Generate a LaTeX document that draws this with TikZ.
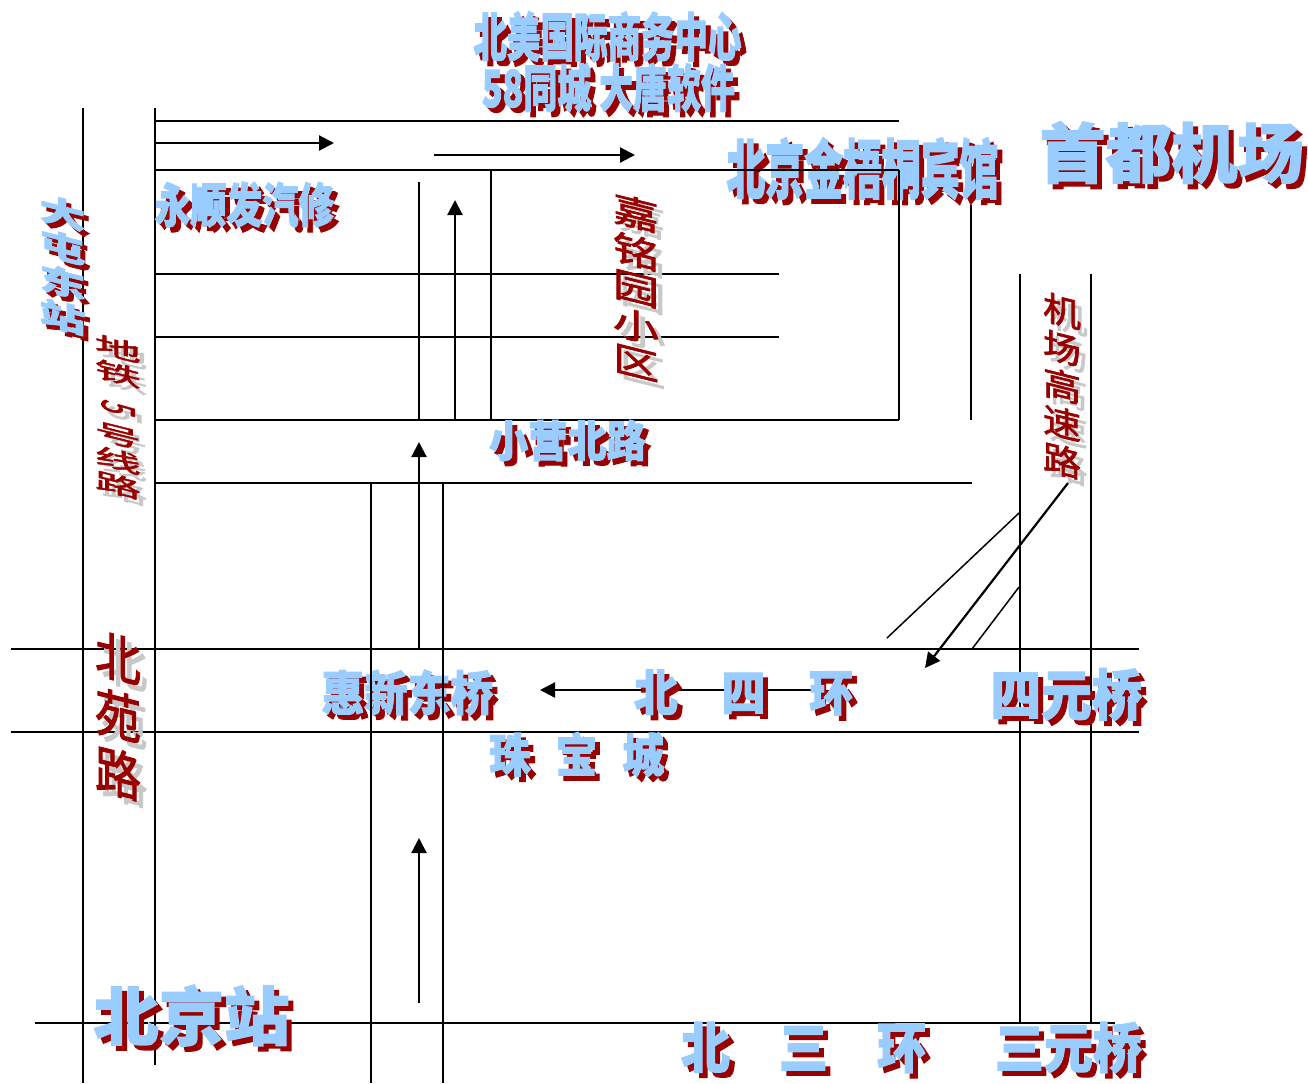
\documentclass[tikz,border=0pt]{standalone}
\usepackage{fontspec}
\usepackage{xcolor}
\usetikzlibrary{arrows.meta}
\newfontfamily\heavyfont[BoldFeatures={FakeBold=2.2}]{Noto Sans CJK SC}
\newfontfamily\thinfont[FakeBold=2]{Noto Sans CJK SC}
\definecolor{frontblue}{RGB}{153,204,255}
\definecolor{shadowred}{RGB}{153,0,0}
\definecolor{shadowgrey}{RGB}{200,200,200}
\newdimen\pxunit
\pxunit=0.02cm
\tikzset{
	road/.style={line width=0.85pt, black},
	route/.style={line width=1.25pt, black, -{Triangle[length=0.3cm,width=0.3cm]}},
	bluetext/.style={inner sep=0pt, outer sep=0pt, font=\heavyfont\bfseries},
	redtext/.style={inner sep=0pt, outer sep=0pt, font=\thinfont},
	leaning/.style={yslant=-0.25, transform shape}
}
% characters set one under the other, with no gap
\newcommand{\charstack}[1]{{\renewcommand{\arraystretch}{0.76}\begin{tabular}[b]{@{}c@{}}#1\end{tabular}}}
% name, x, y, width, height, text (x and y are the centre, in pixels)
\newcommand{\bluelabel}[7][]{
	\node[bluetext, shadowred, #1] (#2-shadow) at (#3+2.5,#4+2.5) {\resizebox{#5\pxunit}{#6\pxunit}{#7}};
	\node[bluetext, frontblue, #1] (#2) at (#3-2.5,#4-2.5) {\resizebox{#5\pxunit}{#6\pxunit}{#7}};
}
\newcommand{\redlabel}[6]{
	\node[redtext, shadowgrey, leaning] (#1-shadow) at (#2+4.5,#3+4.5) {\resizebox{#4\pxunit}{#5\pxunit}{#6}};
	\node[redtext, shadowred, leaning] (#1) at (#2-2,#3-2) {\resizebox{#4\pxunit}{#5\pxunit}{#6}};
}

\begin{document}
\begin{tikzpicture}[x=0.02cm, y=-0.02cm]
	\clip (0,0) rectangle (1308,1083);
	% Labels under the roads
	\bluelabel{jinwutong}{865}{171}{272}{56}{北京金梧桐宾馆}
	\bluelabel{huixin}{410}{695}{172}{41}{惠新东桥}
	% Roads
	\foreach \y/\a/\b in {121/155/899, 170/155/899, 274/155/779, 337/155/779, 420/155/899,
		483/155/972, 649/11/1139, 732/11/1139, 1023/35/1115}{
		\draw[road] (\a,\y) -- (\b,\y);
	}
	\foreach \x/\a/\b in {83/108/1083, 155/108/1065, 371/483/1083, 443/483/1083, 419/182/420,
		491/170/420, 899/170/420, 971/205/420, 1020/274/1023, 1091/274/1023}{
		\draw[road] (\x,\a) -- (\x,\b);
	}
	\draw[road] (1019,513) -- (887,638);
	\draw[road] (1019,587) -- (972,649);
	% Routes
	\draw[route] (155,143) -- (334,143);
	\draw[route] (434,155) -- (635,155);
	\draw[route] (455,420) -- (455,200);
	\draw[route] (419,649) -- (419,442);
	\draw[route] (419,1003) -- (419,838);
	\draw[route] (815,690) -- (540,690);
	\draw[route] (1068,483) -- (925,668);
	% Labels over the roads
	\foreach \name/\x/\y/\w/\h/\txt in {
		meiguo/610/39/268/45/{北美国际商务中心},
		tangsoft/611/90/253/44/{58同城 大唐软件},
		yongshun/247/207/180/41/{永顺发汽修},
		airport/1174/155/264/56/{首都机场},
		xiaoying/570/443/157/37/{小营北路},
		sihuan/746/695/219/41/{北\hspace{1em}四\hspace{1em}环},
		zhubao/579/757/175/40/{珠\hspace{0.6em}宝\hspace{0.6em}城},
		siyuan/1069/697/152/47/{四元桥},
		beijingzhan/194/1018/196/55/{北京站},
		sanhuan/806/1050/245/46/{北\hspace{1em}三\hspace{1em}环},
		sanyuan/1071/1050/147/46/{三元桥}}{
		\bluelabel{\name}{\x}{\y}{\w}{\h}{\txt}
	}
	\bluelabel[leaning]{datun}{65}{270}{46}{130}{\charstack{大\\屯\\东\\站}}
	\foreach \name/\x/\y/\w/\h/\txt in {
		jiaming/638/293/46/178/{\charstack{嘉\\铭\\园\\小\\区}},
		jichang/1064/391/38/178/{\charstack{机\\场\\高\\速\\路}},
		ditie/120/421/46/155/{\charstack{地\\铁\\\raisebox{0.5em}{\rotatebox{-90}{\hspace{0.5em}5\hspace{0.5em}}}\\号\\线\\路}},
		beiyuan/120/723/46/158/{\charstack{北\\苑\\路}}}{
		\redlabel{\name}{\x}{\y}{\w}{\h}{\txt}
	}
\end{tikzpicture}
\end{document}
